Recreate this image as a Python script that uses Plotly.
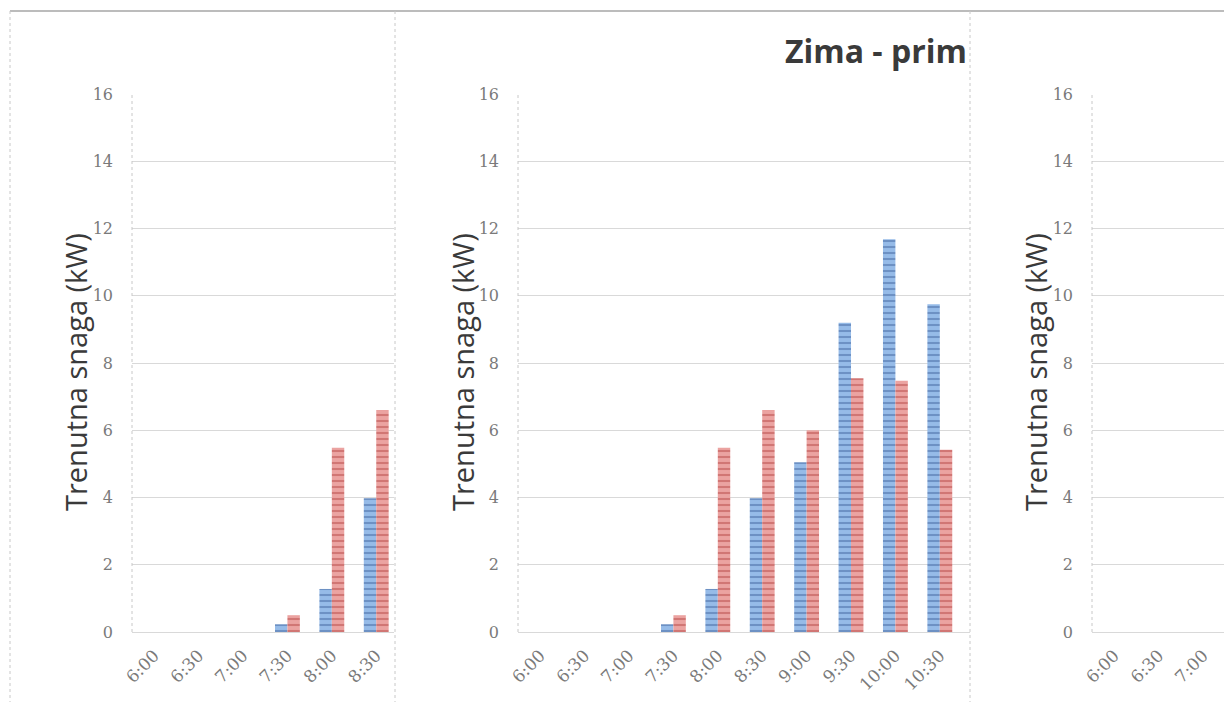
import plotly.graph_objects as go

categories = ["6:00", "6:30", "7:00", "7:30", "8:00", "8:30", "9:00", "9:30", "10:00", "10:30"]
series_blue = [0, 0, 0, 0.23, 1.28, 3.98, 5.05, 9.2, 11.68, 9.75]
series_red = [0, 0, 0, 0.5, 5.48, 6.6, 6.0, 7.55, 7.47, 5.42]
y_ticks = [0, 2, 4, 6, 8, 10, 12, 14, 16]
title_text = "Zima - prim"
y_title = "Trenutna snaga (kW)"

W, H = 1224, 702


def px(v):
    return min(1.0, max(0.0, v / W))


def py(v):
    return 1 - v / H


panels = [
    dict(dom=[px(132), px(394)], rng=[-0.5, 5.4], title_x=75),
    dict(dom=[px(518), px(970)], rng=[-0.5, 9.68], title_x=462),
    dict(dom=[px(1092), 1.0], rng=[-0.5, 2.47], title_x=1035),
]

blue_col, blue_fg = "#96bbe8", "#44679f"
red_col, red_fg = "#eba3a1", "#b84a48"

fig = go.Figure()
tick_font = dict(family="DejaVu Serif", size=16, color="#7a7a7a")
xtick_font = dict(family="DejaVu Serif", size=17, color="#7a7a7a")

for i, p in enumerate(panels):
    sfx = "" if i == 0 else str(i + 1)
    xa, ya = "x" + sfx, "y" + sfx
    fig.add_trace(go.Bar(x=categories, y=series_blue, xaxis=xa, yaxis=ya,
                         marker=dict(color=blue_col, line=dict(width=0),
                                     pattern=dict(shape="-", fgcolor=blue_fg, size=6, solidity=0.35)),
                         showlegend=False))
    fig.add_trace(go.Bar(x=categories, y=series_red, xaxis=xa, yaxis=ya,
                         marker=dict(color=red_col, line=dict(width=0),
                                     pattern=dict(shape="-", fgcolor=red_fg, size=6, solidity=0.35)),
                         showlegend=False))
    fig.layout["xaxis" + sfx] = dict(
        domain=p["dom"], range=p["rng"], type="category", categoryarray=categories,
        anchor=ya, tickangle=-45, tickfont=xtick_font, showgrid=False, automargin=False,
        showline=True, linecolor="#d9d9d9", linewidth=1, ticks="", ticklabelstandoff=6,
    )
    fig.layout["yaxis" + sfx] = dict(
        domain=[py(632), py(94)], range=[0, 16], tickvals=y_ticks, automargin=False,
        anchor=xa, tickfont=tick_font, showgrid=True, gridcolor="#d9d9d9", gridwidth=1,
        zeroline=False, showline=False, ticks="", ticklabelstandoff=18,
    )
    fig.add_shape(type="line", xref=xa + " domain", yref=ya + " domain",
                  x0=0, x1=0, y0=0, y1=1, line=dict(color="#c8c8c8", width=1, dash="dot"))
    fig.add_annotation(text=y_title, xref="paper", yref="paper", x=px(p["title_x"]), y=py(372),
                       xanchor="center", yanchor="middle", textangle=-90, showarrow=False,
                       font=dict(family="Open Sans", size=29, color="#3a3a3a"))

# chart frame / crop borders
fig.add_shape(type="line", xref="paper", yref="paper", x0=px(10), x1=1, y0=py(11), y1=py(11),
              line=dict(color="#a6a6a6", width=1.5))
for xv in (10, 395, 970):
    fig.add_shape(type="line", xref="paper", yref="paper", x0=px(xv), x1=px(xv), y0=py(11), y1=0,
                  line=dict(color="#c8c8c8", width=1, dash="dot"))

fig.add_annotation(text="<b>" + title_text + "</b>", xref="paper", yref="paper",
                   x=px(969), y=py(51), xanchor="right", yanchor="middle", showarrow=False,
                   font=dict(family="Open Sans", size=32, color="#3a3a3a"))

fig.update_layout(width=W, height=H, margin=dict(l=0, r=0, t=0, b=0, autoexpand=False),
                  paper_bgcolor="white", plot_bgcolor="white",
                  barmode="group", bargap=0.44, bargroupgap=0)

fig.write_html("out.html", config={"displayModeBar": False},
               post_script="document.body.style.margin='0';document.body.style.overflow='hidden';"
                           "document.documentElement.style.overflow='hidden';"
                           "var d=document.getElementById('{plot_id}');"
                           "d.style.position='fixed';d.style.left='0px';d.style.top='0px';")
